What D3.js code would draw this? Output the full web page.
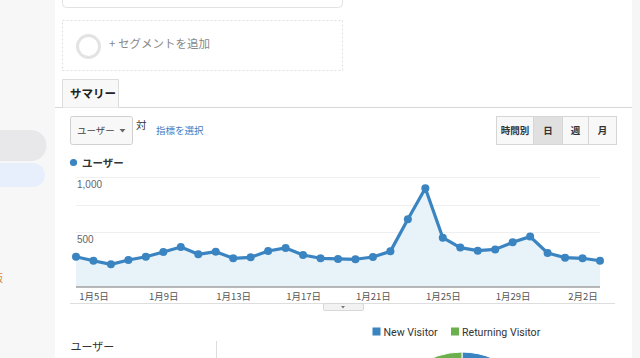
<!DOCTYPE html>
<html><head><meta charset="utf-8">
<script src="https://cdn.jsdelivr.net/npm/d3@7"></script>
<style>
html,body{margin:0;padding:0;background:#fff;overflow:hidden}
svg{display:block;font-family:"Noto Sans CJK JP","Noto Sans",sans-serif}
</style></head><body>
<svg id="c" width="640" height="358"></svg>
<script>
const dates = ["1月4日","1月5日","1月6日","1月7日","1月8日","1月9日","1月10日","1月11日","1月12日","1月13日","1月14日","1月15日","1月16日","1月17日","1月18日","1月19日","1月20日","1月21日","1月22日","1月23日","1月24日","1月25日","1月26日","1月27日","1月28日","1月29日","1月30日","1月31日","2月1日","2月2日","2月3日"];
const users = [275,239,206,245,275,318,364,297,321,261,270,327,355,291,261,255,252,273,324,615,897,448,358,330,342,406,458,309,267,261,239];
const xTickLabels = ["1月5日","1月9日","1月13日","1月17日","1月21日","1月25日","1月29日","2月2日"];
const yTickValues = [500,1000];
const gridValues = [500,750,1000];
const pieLabels = ["New Visitor","Returning Visitor"];
const pieValues = [80,20];
const pieColors = ["#3a84c1","#6ab04c"];

const svg = d3.select("#c");
const lineColor = "#3a84c1";

// page chrome
svg.append("rect").attr("x",0).attr("y",0).attr("width",55).attr("height",358).attr("fill","#f7f7f8");
svg.append("path").attr("d","M0,130 H31 A15.5,15.5 0 0 1 31,161 H0 Z").attr("fill","#e8e8ea");
svg.append("path").attr("d","M0,163 H33 A12,12 0 0 1 33,187 H0 Z").attr("fill","#e8effc");
svg.append("text").attr("x",-7).attr("y",282).attr("font-size",10).attr("fill","#d9822b").text("販");
svg.append("rect").attr("x",632).attr("y",0).attr("width",8).attr("height",358).attr("fill","#f6f6f6");

svg.append("rect").attr("x",62.5).attr("y",-10).attr("width",280).attr("height",17.5).attr("rx",4)
  .attr("fill","#fff").attr("stroke","#e2e2e2");
svg.append("rect").attr("x",62.5).attr("y",20.5).attr("width",280).attr("height",50)
  .attr("fill","none").attr("stroke","#dedede").attr("stroke-dasharray","2,2");
svg.append("circle").attr("cx",88.5).attr("cy",46.5).attr("r",11).attr("fill","none")
  .attr("stroke","#e3e3e3").attr("stroke-width",3);
svg.append("text").attr("x",109).attr("y",47.5).attr("font-size",11.5).attr("fill","#888").text("+ セグメントを追加");

// tab
svg.append("line").attr("x1",55).attr("x2",632).attr("y1",107.5).attr("y2",107.5).attr("stroke","#d8d8d8");
svg.append("path").attr("d","M62.5,107.5 V79.5 H118.5 V107.5").attr("fill","#f8f8f8").attr("stroke","#dcdcdc");
svg.append("text").attr("x",70).attr("y",97.5).attr("font-size",11.5).attr("font-weight","bold").attr("fill","#222").text("サマリー");

// dropdown
svg.append("rect").attr("x",70.5).attr("y",116.5).attr("width",62).attr("height",28).attr("rx",2)
  .attr("fill","#f8f8f8").attr("stroke","#d0d0d0");
svg.append("text").attr("x",77).attr("y",134).attr("font-size",9.5).attr("fill","#444").text("ユーザー");
svg.append("path").attr("d","M119.5,129 h6 l-3,3.5 z").attr("fill","#666");
svg.append("text").attr("x",136).attr("y",129).attr("font-size",10.5).attr("fill","#333").text("対");
svg.append("text").attr("x",156).attr("y",134).attr("font-size",9.5).attr("fill","#3f7cbf").text("指標を選択");

// button group
const btns = [{t:"時間別",x0:496.5,x1:533.5,a:false},{t:"日",x0:533.5,x1:562.5,a:true},{t:"週",x0:562.5,x1:588.5,a:false},{t:"月",x0:588.5,x1:616.5,a:false}];
btns.forEach(b=>{
  svg.append("rect").attr("x",b.x0).attr("y",116.5).attr("width",b.x1-b.x0).attr("height",28)
    .attr("fill",b.a?"#e0e0e0":"#f8f8f8").attr("stroke","#d6d6d6");
  svg.append("text").attr("x",(b.x0+b.x1)/2).attr("y",134).attr("text-anchor","middle")
    .attr("font-size",9.5).attr("font-weight","bold").attr("fill","#333").text(b.t);
});

// series legend
svg.append("circle").attr("cx",73.5).attr("cy",162.5).attr("r",3.6).attr("fill",lineColor);
svg.append("text").attr("x",82).attr("y",166.5).attr("font-size",10.5).attr("font-weight","bold").attr("fill","#333").text("ユーザー");

// chart
const x = d3.scalePoint().domain(dates).range([76,600]);
const y = d3.scaleLinear().domain([0,1000]).range([287,177]);

svg.append("g").selectAll("line").data(gridValues).join("line")
  .attr("x1",76).attr("x2",600).attr("y1",d=>Math.round(y(d))+0.5).attr("y2",d=>Math.round(y(d))+0.5)
  .attr("stroke","#efefef");

const data = dates.map((d,i)=>({d, v: users[i]}));
svg.append("path").datum(data)
  .attr("d", d3.area().x(p=>x(p.d)).y0(y(0)).y1(p=>y(p.v)))
  .attr("fill","#e7f2f9");
svg.append("path").datum(data)
  .attr("d", d3.line().x(p=>x(p.d)).y(p=>y(p.v)))
  .attr("fill","none").attr("stroke",lineColor).attr("stroke-width",3.2).attr("stroke-linejoin","round");
svg.append("g").selectAll("circle").data(data).join("circle")
  .attr("cx",p=>x(p.d)).attr("cy",p=>y(p.v)).attr("r",4).attr("fill",lineColor);

// y labels
svg.append("g").selectAll("text").data(yTickValues).join("text")
  .attr("x",77).attr("y",d=>y(d)+11).attr("font-size",10).attr("fill","#666")
  .attr("font-family","'Liberation Sans',Arial,sans-serif")
  .text(d=>d3.format(",")(d));

// x axis
const xAxis = d3.axisBottom(x).tickValues(xTickLabels).tickSize(0).tickPadding(6);
const gx = svg.append("g").attr("transform","translate(0,287)").call(xAxis);
gx.select(".domain").attr("stroke","#a0a0a0").attr("stroke-width",1.5).attr("d","M76,0H600");
gx.selectAll("text").attr("font-size",9.5).attr("fill","#555").attr("font-family","'Noto Sans CJK JP',sans-serif");

svg.append("line").attr("x1",70).attr("x2",615).attr("y1",303.5).attr("y2",303.5).attr("stroke","#dedede");
svg.append("rect").attr("x",323.5).attr("y",303.5).attr("width",40).attr("height",7).attr("rx",1.5)
  .attr("fill","#f2f2f2").attr("stroke","#d8d8d8");
svg.append("path").attr("d","M341,306 h4 l-2,2.5 z").attr("fill","#777");

// bottom legend
const lgX = [372.5, 451];
pieLabels.forEach((l,i)=>{
  svg.append("rect").attr("x",lgX[i]).attr("y",327.5).attr("width",8).attr("height",8).attr("fill",pieColors[i]);
  svg.append("text").attr("x",lgX[i]+11).attr("y",335.5).attr("font-size",10.6).attr("fill","#333")
    .attr("font-family","Roboto,'Liberation Sans',sans-serif").text(l);
});
svg.append("text").attr("x",70.5).attr("y",351).attr("font-size",11).attr("fill","#333").text("ユーザー");
svg.append("line").attr("x1",216.5).attr("x2",216.5).attr("y1",341).attr("y2",358).attr("stroke","#dcdcdc");

// pie
const pie = d3.pie().sort(null)(pieValues);
const arc = d3.arc().innerRadius(0).outerRadius(78);
svg.append("g").attr("transform","translate(462,430)").selectAll("path").data(pie).join("path")
  .attr("d",arc).attr("fill",(d,i)=>pieColors[i]).attr("stroke","#fff").attr("stroke-width",1);
</script></body></html>
